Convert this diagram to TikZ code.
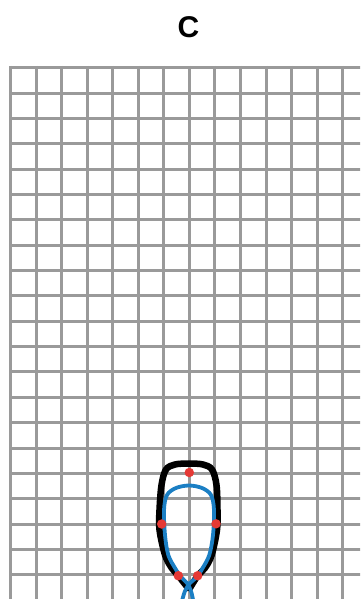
\documentclass[tikz,border=0pt]{standalone}
\usepackage{fontspec}
\setmainfont{Liberation Sans}
\definecolor{gridgray}{HTML}{9A9A9A}
\definecolor{loopblue}{HTML}{1B7FC4}
\definecolor{dotred}{HTML}{E53935}
\tikzset{
  gridline/.style={draw=gridgray, line width=3pt},
  outerloop/.style={draw=black, line width=6.5pt, line join=round, line cap=round},
  innerloop/.style={draw=loopblue, line width=3.8pt, line join=round},
  marker/.style={circle, fill=dotred, inner sep=0pt, minimum size=9.5pt},
  titlefont/.style={font=\bfseries\fontsize{30}{34}\selectfont}
}
\begin{document}
\begin{tikzpicture}[x=1pt, y=-1pt]
\useasboundingbox (0,0) rectangle (360,599);
\begin{scope}
\clip (0,0) rectangle (360,599);
% grid
\foreach \gx in {10,36,61,87,112,138,163,189,214,240,266,291,317,342,368} {
  \draw[gridline] (\gx+0.5,66) -- (\gx+0.5,605);
}
\foreach \gy in {67,93,118,143,169,194,219,245,270,295,321,346,371,397,422,448,473,498,524,549,574,600} {
  \draw[gridline] (9,\gy+0.5) -- (365,\gy+0.5);
}
% black outline
\draw[outerloop] plot[smooth, tension=0.55] coordinates {
  (188,588) (178.3,575.7) (171.7,568) (165,555) (159.5,530) (159.5,510) (161.5,485)
  (166,469.5) (175,464.5) (189,463.5) (203,464.5) (212,469.5) (216.5,485) (217.5,510)
  (217,530) (211.7,555) (205,568) (197.7,575.7) (190,588)};
% blue loop
\draw[innerloop] plot[smooth, tension=0.55] coordinates {
  (181.7,602) (185,591) (190,583) (197,577) (202.7,568) (209.3,555) (213,535) (214,510)
  (211,495) (202,488) (189,485.5) (176,488) (167,495) (164,510) (165,535) (168.3,555)
  (175,568) (181,577) (187,583) (191,591) (193.5,602)};
\end{scope}
% markers
\node[marker] (top) at (189.3,472.5) {};
\node[marker] (left) at (161.7,524) {};
\node[marker] (right) at (216,523.8) {};
\node[marker] (botl) at (178.3,575.7) {};
\node[marker] (botr) at (197.7,575.7) {};
% title
\node[titlefont] (title) at (188.5,27) {C};
\end{tikzpicture}
\end{document}
